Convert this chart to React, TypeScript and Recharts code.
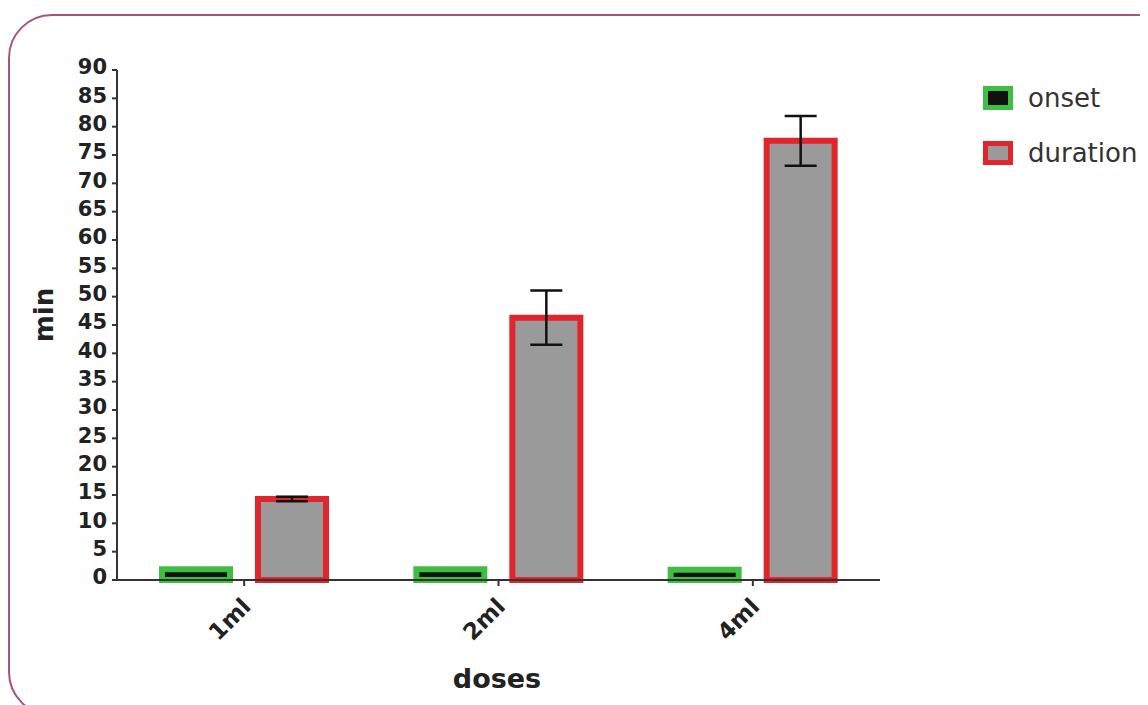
import React from 'react';
import { BarChart, Bar, XAxis, YAxis, Legend, ErrorBar, Label } from 'recharts';

const doses = ['1ml', '2ml', '4ml'];
const onset = [1.9, 1.9, 1.8];
const duration = [14.3, 46.3, 77.5];
const durationErr = [0.4, 4.8, 4.4];
const yTicks = [0, 5, 10, 15, 20, 25, 30, 35, 40, 45, 50, 55, 60, 65, 70, 75, 80, 85, 90];

const data = doses.map((d, i) => ({
    dose: d,
    onset: onset[i],
    duration: duration[i],
    durationErr: durationErr[i],
}));

const font = '"DejaVu Sans", sans-serif';
const W = 1140;
const H = 697;
const plotTop = 62;
const plotBottom = 572;

const XTick = (props: any) => {
    const { x, y, payload } = props;
    return (
        <g transform={`translate(${x + 8},${y + 20}) rotate(-45)`}>
            <text textAnchor="end" fontFamily={font} fontWeight="bold" fontSize={23} fill="#222">
                {payload.value}
            </text>
        </g>
    );
};

const YTitle = () => {
    const cy = 307;
    return (
        <text x={36} y={cy} transform={`rotate(-90, 36, ${cy})`} textAnchor="middle" dominantBaseline="central"
            fontFamily={font} fontWeight="bold" fontSize={26} fill="#222">min</text>
    );
};

const XTitle = () => (
    <text x={489} y={670} textAnchor="middle" dominantBaseline="central"
        fontFamily={font} fontWeight="bold" fontSize={27} fill="#222">doses</text>
);

const legendItems = [
    { name: 'onset', stroke: '#3fbf42', fill: '#111' },
    { name: 'duration', stroke: '#e0262c', fill: '#9a9a9a' },
];

const LegendBox = () => (
    <div style={{ fontFamily: font }}>
        {legendItems.map((it) => (
            <div key={it.name} style={{ display: 'flex', alignItems: 'center', height: 28, marginBottom: 27 }}>
                <div style={{ width: 30, height: 24, boxSizing: 'border-box', border: `5px solid ${it.stroke}`, background: it.fill }} />
                <span style={{ marginLeft: 15, fontSize: 26, color: '#333' }}>{it.name}</span>
            </div>
        ))}
    </div>
);

export default function App() {
    return (
        <div style={{ position: 'relative', width: W, height: H, overflow: 'hidden', background: '#fff' }}>
            <div style={{
                position: 'absolute', left: 0, top: 6, width: 1300, height: 702,
                border: '2px solid #a4547f', borderRadius: 44, boxSizing: 'border-box'
            }} />
            <BarChart width={W} height={H} data={data} barSize={68} barGap={28}
                margin={{ top: plotTop, right: 268, left: 0, bottom: 0 }}>
                <XAxis dataKey="dose" height={H - plotBottom} tick={<XTick />} tickSize={6} tickMargin={2}
                    axisLine={{ stroke: '#333', strokeWidth: 2 }} tickLine={{ stroke: '#333', strokeWidth: 2 }}>
                    <Label content={<XTitle />} />
                </XAxis>
                <YAxis width={109} domain={[0, 90]} ticks={yTicks} interval={0} tickSize={5} tickMargin={5}
                    axisLine={{ stroke: '#333', strokeWidth: 2 }} tickLine={{ stroke: '#333', strokeWidth: 2 }}
                    tick={{ fontFamily: font, fontWeight: 'bold', fontSize: 21, fill: '#222', dy: -3 }}>
                    <Label content={<YTitle />} />
                </YAxis>
                <Legend layout="vertical" align="center" verticalAlign="middle"
                    wrapperStyle={{ left: 975, top: 76, width: 170 }} content={<LegendBox />} />
                <Bar dataKey="onset" fill="#111" stroke="#3fbf42" strokeWidth={6} isAnimationActive={false} />
                <Bar dataKey="duration" fill="#9a9a9a" stroke="#e0262c" strokeWidth={6} isAnimationActive={false}>
                    <ErrorBar dataKey="durationErr" width={16} stroke="#111" strokeWidth={2.5} direction="y" isAnimationActive={false} />
                </Bar>
            </BarChart>
        </div>
    );
}
